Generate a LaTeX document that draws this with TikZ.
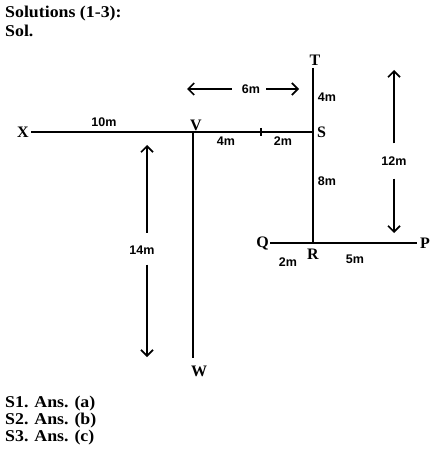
\documentclass[tikz,border=0pt]{standalone}
\usepackage{fontspec}
\setmainfont{Liberation Serif}
\newfontfamily\labelfont{Liberation Sans}
\usepackage{tikz}
\usetikzlibrary{arrows.meta}
\usetikzlibrary{positioning}
\tikzset{road/.style={line width=2pt},
pt/.style={font=\fontsize{16}{16}\selectfont\bfseries,inner sep=1pt},
dist/.style={font=\labelfont\fontsize{12.5}{12.5}\selectfont\bfseries,inner sep=1pt},
span/.style={line width=1.7pt,-{Straight Barb[length=6pt,width=12pt,line width=1.7pt]}},
head/.style={font=\fontsize{16.5}{18}\selectfont\bfseries,anchor=west,inner sep=0pt,xscale=1.08}}

\begin{document}
\begin{tikzpicture}[x=1pt,y=-1pt]
\useasboundingbox(0,0)rectangle(440,454);
\node[head](h1)at(5,14){Solutions (1-3):};
\node[head](h2)at(5,31){Sol.};
\node[head](a1)at(5,404){S1. Ans. (a)};
\node[head](a2)at(5,421){S2. Ans. (b)};
\node[head](a3)at(5,438){S3. Ans. (c)};

\coordinate(X)at(31,132);
\coordinate(V)at(193,132);
\coordinate(S)at(313,132);
\coordinate(T)at(313,68);
\coordinate(R)at(313,243);
\coordinate(Q)at(270,243);
\coordinate(P)at(417,243);
\coordinate(W)at(193,358);
\coordinate(tick)at(261,132);

\draw[road](X)--(S);
\draw[road](T)--(R);
\draw[road](V)--(W);
\draw[road](Q)--(P);
\draw[line width=1.6pt](tick)++(0,-4)--++(0,8);

\node[pt,left=1pt of X](lX){X};
\node[pt,above=0pt of V,xshift=3pt](lV){V};
\node[pt,right=3pt of S](lS){S};
\node[pt,above=1pt of T,xshift=2pt](lT){T};
\node[pt,left=0pt of Q](lQ){Q};
\node[pt,below=5pt of R](lR){R};
\node[pt,right=2pt of P](lP){P};
\node[pt,below=7pt of W,xshift=6pt](lW){W};

\node[dist](d10)at(104,122){10m};
\node[dist](d4a)at(226,141){4m};
\node[dist](d2a)at(283,141){2m};
\node[dist](d4b)at(327,97){4m};
\node[dist](d8)at(327,181){8m};
\node[dist](d2b)at(288,262){2m};
\node[dist](d5)at(355,259){5m};
\node[dist](d6)at(251,89){6m};
\node[dist](d12)at(394,161){12m};
\node[dist](d14)at(142,250){14m};

\coordinate(t6l)at(187,89);
\coordinate(t6r)at(299,89);
\coordinate(t12u)at(394,70);
\coordinate(t12d)at(394,233);
\coordinate(t14u)at(147,145);
\coordinate(t14d)at(147,357);

\draw[span,shorten <=9pt](d6.west)--(t6l);
\draw[span,shorten <=5pt](d6.east)--(t6r);
\draw[span,shorten <=12pt](d12.north)--(t12u);
\draw[span,shorten <=12pt](d12.south)--(t12d);
\draw[span,shorten <=12pt](d14.north-|t14u)--(t14u);
\draw[span,shorten <=9pt](d14.south-|t14d)--(t14d);
\end{tikzpicture}
\end{document}
